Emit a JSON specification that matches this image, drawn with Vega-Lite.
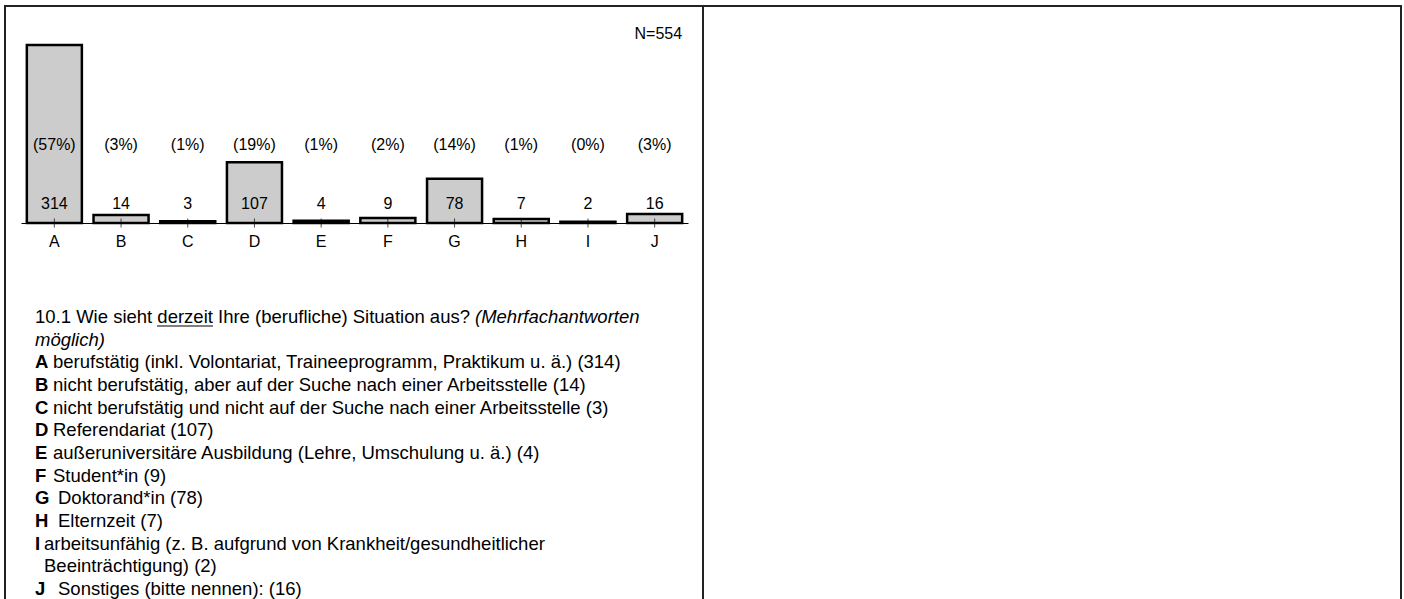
{
  "$schema": "https://vega.github.io/schema/vega-lite/v6.json",
  "background": "white",
  "padding": {"left": 4, "top": 5, "right": 0, "bottom": 0},
  "spacing": 0,
  "bounds": "flush",
  "config": {
    "view": {"stroke": "#222", "strokeWidth": 2},
    "font": "Liberation Sans",
    "text": {"font": "Liberation Sans", "color": "#000"}
  },
  "datasets": {
    "bars": [
      {"cat": "A", "n": 314, "pct": "(57%)"},
      {"cat": "B", "n": 14, "pct": "(3%)"},
      {"cat": "C", "n": 3, "pct": "(1%)"},
      {"cat": "D", "n": 107, "pct": "(19%)"},
      {"cat": "E", "n": 4, "pct": "(1%)"},
      {"cat": "F", "n": 9, "pct": "(2%)"},
      {"cat": "G", "n": 78, "pct": "(14%)"},
      {"cat": "H", "n": 7, "pct": "(1%)"},
      {"cat": "I", "n": 2, "pct": "(0%)"},
      {"cat": "J", "n": 16, "pct": "(3%)"}
    ],
    "lines": [
      {"line": 1, "kind": "q", "letter": "", "text": "10.1 Wie sieht derzeit Ihre (berufliche) Situation aus?"},
      {"line": 1, "kind": "qi_cont", "letter": "", "text": "(Mehrfachantworten"},
      {"line": 2, "kind": "qi", "letter": "", "text": "möglich)"},
      {"line": 3, "kind": "opt", "letter": "A", "text": "berufstätig (inkl. Volontariat, Traineeprogramm, Praktikum u. ä.) (314)"},
      {"line": 4, "kind": "opt", "letter": "B", "text": "nicht berufstätig, aber auf der Suche nach einer Arbeitsstelle (14)"},
      {"line": 5, "kind": "opt", "letter": "C", "text": "nicht berufstätig und nicht auf der Suche nach einer Arbeitsstelle (3)"},
      {"line": 6, "kind": "opt", "letter": "D", "text": "Referendariat (107)"},
      {"line": 7, "kind": "opt", "letter": "E", "text": "außeruniversitäre Ausbildung (Lehre, Umschulung u. ä.) (4)"},
      {"line": 8, "kind": "opt", "letter": "F", "text": "Student*in (9)"},
      {"line": 9, "kind": "opt", "letter": "G", "text": "Doktorand*in (78)"},
      {"line": 10, "kind": "opt", "letter": "H", "text": "Elternzeit (7)"},
      {"line": 11, "kind": "opt", "letter": "I", "text": "arbeitsunfähig (z. B. aufgrund von Krankheit/gesundheitlicher"},
      {"line": 12, "kind": "cont", "letter": "", "text": "Beeinträchtigung) (2)"},
      {"line": 13, "kind": "opt", "letter": "J", "text": "Sonstiges (bitte nennen): (16)"}
    ]
  },
  "hconcat": [
    {
      "width": 698,
      "height": 620,
      "resolve": {"scale": {"y": "independent"}},
      "layer": [
        {
          "data": {"name": "bars"},
          "layer": [
            {
              "mark": {"type": "bar", "fill": "#cccccc", "stroke": "#000", "strokeWidth": 2.5},
              "encoding": {
                "x": {
                  "field": "cat", "type": "nominal", "sort": null,
                  "scale": {"range": [16, 683], "paddingInner": 0.175, "paddingOuter": 0.0875},
                  "axis": {
                    "title": null, "orient": "bottom", "offset": -403,
                    "domainColor": "#000", "domainWidth": 1, "ticks": false, "grid": false,
                    "labelAngle": 0, "labelFontSize": 16, "labelColor": "#000",
                    "labelPadding": 18, "labelBaseline": "middle", "labelFont": "Liberation Sans"
                  }
                },
                "y": {
                  "field": "n", "type": "quantitative",
                  "scale": {"domain": [0, 314], "range": [217, 39], "nice": false, "zero": true},
                  "axis": null
                }
              }
            },
            {
              "mark": {"type": "tick", "orient": "vertical", "size": 9, "thickness": 1, "color": "#000"},
              "encoding": {
                "x": {"field": "cat", "type": "nominal", "sort": null},
                "y": {"datum": 0, "type": "quantitative"}
              }
            },
            {
              "mark": {"type": "text", "fontSize": 16, "dy": -19, "baseline": "middle", "align": "center"},
              "encoding": {
                "x": {"field": "cat", "type": "nominal", "sort": null},
                "y": {"datum": 0, "type": "quantitative"},
                "text": {"field": "n", "type": "quantitative"}
              }
            },
            {
              "mark": {"type": "text", "fontSize": 16, "dy": -78, "baseline": "middle", "align": "center"},
              "encoding": {
                "x": {"field": "cat", "type": "nominal", "sort": null},
                "y": {"datum": 0, "type": "quantitative"},
                "text": {"field": "pct", "type": "nominal"}
              }
            },
            {
              "data": {"values": [{"label": "N=554"}]},
              "mark": {"type": "text", "fontSize": 16, "baseline": "middle", "align": "right"},
              "encoding": {
                "x": {"datum": "J", "type": "nominal", "bandPosition": 1},
                "y": {"value": 28},
                "text": {"field": "label", "type": "nominal"}
              }
            }
          ]
        },
        {
          "data": {"name": "lines"},
          "encoding": {
            "y": {
              "field": "line", "type": "quantitative",
              "scale": {"domain": [1, 13], "range": [311, 583], "nice": false, "zero": false},
              "axis": null
            }
          },
          "layer": [
            {
              "transform": [{"filter": "datum.kind === 'q'"}],
              "mark": {"type": "text", "fontSize": 18.5, "align": "left", "baseline": "middle"},
              "encoding": {"x": {"value": 30}, "text": {"field": "text", "type": "nominal"}}
            },
            {
              "transform": [{"filter": "datum.kind === 'qi'"}],
              "mark": {"type": "text", "fontSize": 18.5, "fontStyle": "italic", "align": "left", "baseline": "middle"},
              "encoding": {"x": {"value": 30}, "text": {"field": "text", "type": "nominal"}}
            },
            {
              "transform": [{"filter": "datum.kind === 'qi_cont'"}],
              "mark": {"type": "text", "fontSize": 18.5, "fontStyle": "italic", "align": "left", "baseline": "middle"},
              "encoding": {"x": {"value": 470}, "text": {"field": "text", "type": "nominal"}}
            },
            {
              "transform": [{"filter": "datum.kind === 'opt'"}],
              "mark": {"type": "text", "fontSize": 18.5, "fontWeight": "bold", "align": "left", "baseline": "middle"},
              "encoding": {"x": {"value": 30}, "text": {"field": "letter", "type": "nominal"}}
            },
            {
              "transform": [{"filter": "datum.kind === 'opt' && indexof(['A','B','C','D','E','F'], datum.letter) >= 0"}],
              "mark": {"type": "text", "fontSize": 18.5, "align": "left", "baseline": "middle"},
              "encoding": {"x": {"value": 48}, "text": {"field": "text", "type": "nominal"}}
            },
            {
              "transform": [{"filter": "datum.kind === 'opt' && indexof(['G','H','J'], datum.letter) >= 0"}],
              "mark": {"type": "text", "fontSize": 18.5, "align": "left", "baseline": "middle"},
              "encoding": {"x": {"value": 53}, "text": {"field": "text", "type": "nominal"}}
            },
            {
              "transform": [{"filter": "datum.letter === 'I' || datum.kind === 'cont'"}],
              "mark": {"type": "text", "fontSize": 18.5, "align": "left", "baseline": "middle"},
              "encoding": {"x": {"value": 39}, "text": {"field": "text", "type": "nominal"}}
            },
            {
              "transform": [{"filter": "datum.kind === 'q'"}],
              "mark": {"type": "rule", "color": "#000", "strokeWidth": 1.2, "yOffset": 9},
              "encoding": {"x": {"value": 152}, "x2": {"value": 208}}
            }
          ]
        }
      ]
    },
    {
      "width": 698,
      "height": 620,
      "data": {"values": [{"v": 0}]},
      "mark": {"type": "point", "opacity": 0},
      "encoding": {
        "x": {"field": "v", "type": "quantitative", "axis": null},
        "y": {"field": "v", "type": "quantitative", "axis": null}
      }
    }
  ]
}
